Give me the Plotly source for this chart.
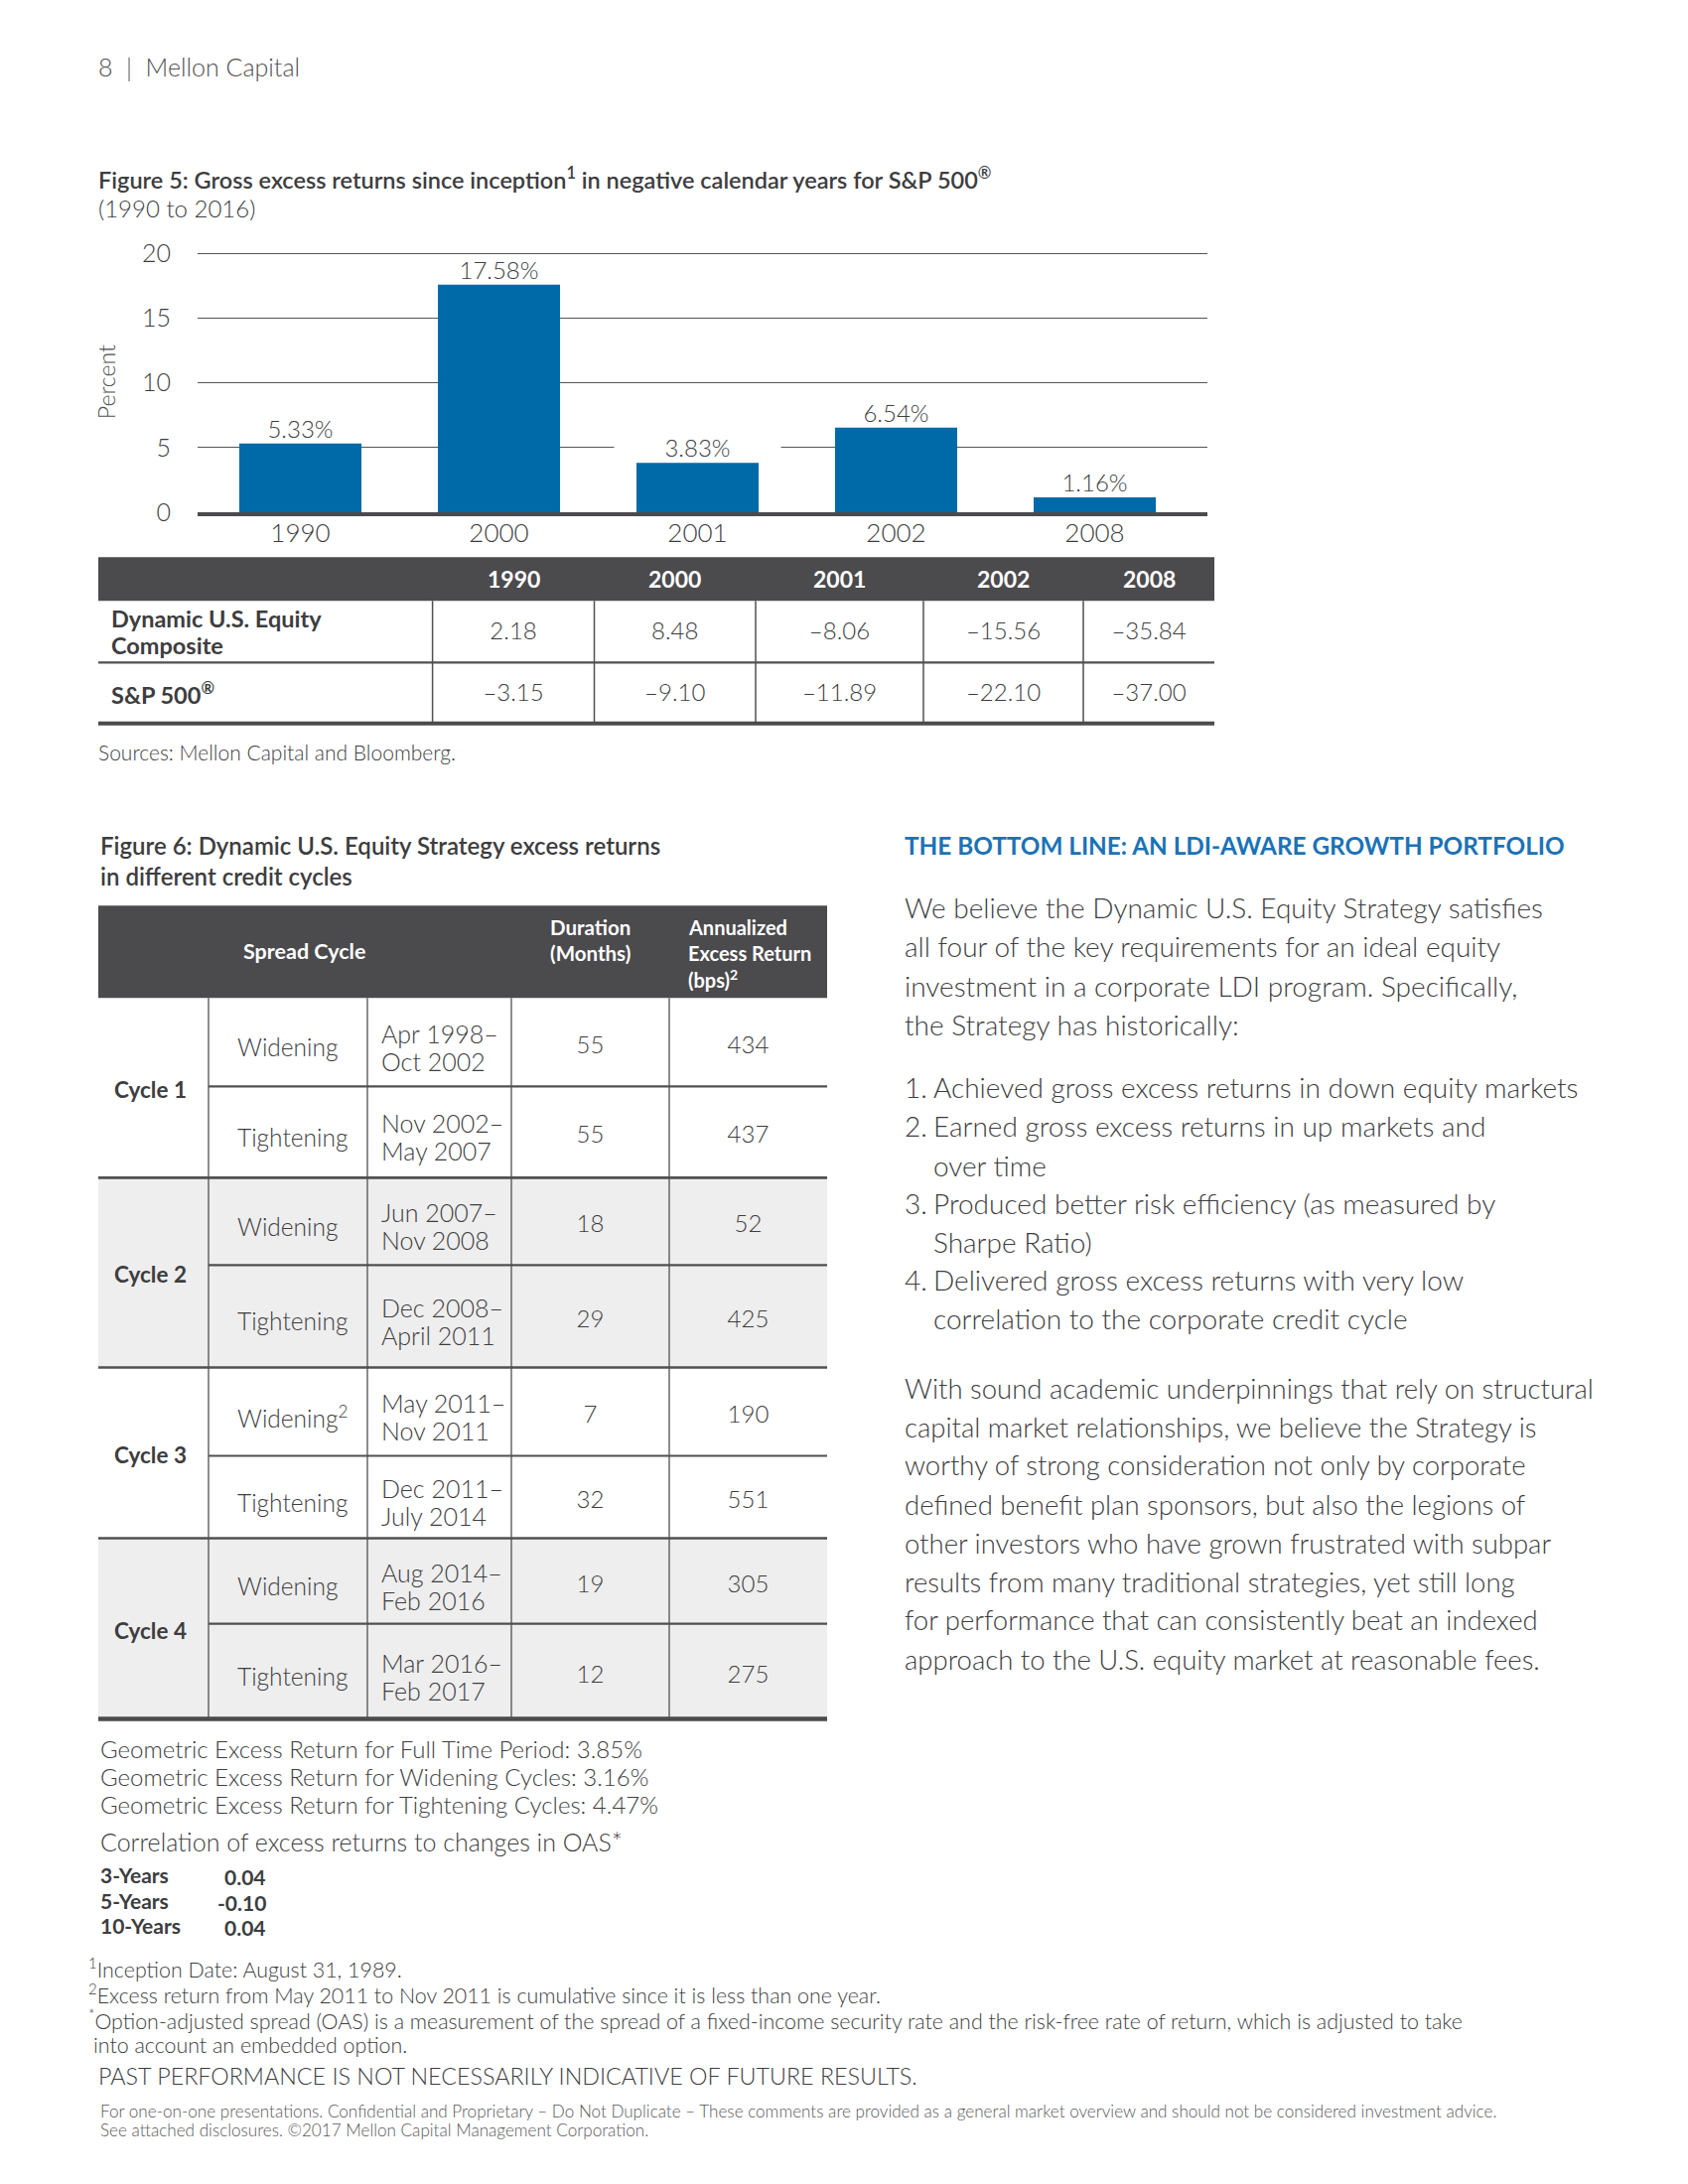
import plotly.graph_objects as go

# ---------------- data ----------------
years = ["1990", "2000", "2001", "2002", "2008"]
excess_pct = [5.33, 17.58, 3.83, 6.54, 1.16]
composite = ["2.18", "8.48", "–8.06", "–15.56", "–35.84"]
sp500 = ["–3.15", "–9.10", "–11.89", "–22.10", "–37.00"]
row_labels_t1 = [["Dynamic U.S. Equity", "Composite"], ["S&amp;P 500<sup>®</sup>"]]

cycles = ["Cycle 1", "Cycle 2", "Cycle 3", "Cycle 4"]
spread = ["Widening", "Tightening", "Widening", "Tightening",
          "Widening<sup>2</sup>", "Tightening", "Widening", "Tightening"]
period_start = ["Apr 1998–", "Nov 2002–", "Jun 2007–", "Dec 2008–",
                "May 2011–", "Dec 2011–", "Aug 2014–", "Mar 2016–"]
period_end = ["Oct 2002", "May 2007", "Nov 2008", "April 2011",
              "Nov 2011", "July 2014", "Feb 2016", "Feb 2017"]
duration = [55, 55, 18, 29, 7, 32, 19, 12]
excess_bps = [434, 437, 52, 425, 190, 551, 305, 275]

geo_lines = ["Geometric Excess Return for Full Time Period: 3.85%",
             "Geometric Excess Return for Widening Cycles: 3.16%",
             "Geometric Excess Return for Tightening Cycles: 4.47%"]
corr_labels = ["3-Years", "5-Years", "10-Years"]
corr_values = ["0.04", "-0.10", "0.04"]

para1 = ["We believe the Dynamic U.S. Equity Strategy satisfies",
         "all four of the key requirements for an ideal equity",
         "investment in a corporate LDI program. Specifically,",
         "the Strategy has historically:"]
list_items = [("1.", "Achieved gross excess returns in down equity markets"),
              ("2.", "Earned gross excess returns in up markets and"),
              ("", "over time"),
              ("3.", "Produced better risk efficiency (as measured by"),
              ("", "Sharpe Ratio)"),
              ("4.", "Delivered gross excess returns with very low"),
              ("", "correlation to the corporate credit cycle")]
para2 = ["With sound academic underpinnings that rely on structural",
         "capital market relationships, we believe the Strategy is",
         "worthy of strong consideration not only by corporate",
         "defined benefit plan sponsors, but also the legions of",
         "other investors who have grown frustrated with subpar",
         "results from many traditional strategies, yet still long",
         "for performance that can consistently beat an indexed",
         "approach to the U.S. equity market at reasonable fees."]

# ---------------- style / page geometry ----------------
W, H = 1700, 2200
XOFF = 9.0              # page offset correction (horizontal)
YA, YB = 0.987, 24.9    # page offset correction (vertical)


def PX(t):
    return (t - XOFF) / W


def PY(t):
    return 1 - ((t - YB) / YA) / H


FONT = "Lato"
TXT = "#3d3d3f"
DARK = "#4b4a4d"
BLUE_BAR = "#0069a7"
BLUE_TXT = "#1b72b6"
LINE = "#505052"
SHADE = "#eeeeee"

ann = []
shapes = []


def T(x, y, s, size=22, w=300, color=TXT, xa="left", ya="middle"):
    ann.append(dict(x=x, y=y, xref="x2", yref="y2", text=s, showarrow=False,
                    xanchor=xa, yanchor=ya,
                    font=dict(family=FONT, size=size, weight=w, color=color)))


def R(x0, y0, x1, y1, fill, layer="below"):
    shapes.append(dict(type="rect", xref="x2", yref="y2", x0=x0, y0=y0, x1=x1, y1=y1,
                       fillcolor=fill, line=dict(width=0), layer=layer))


def L(x0, y0, x1, y1, width=1.2, color=LINE):
    shapes.append(dict(type="line", xref="x2", yref="y2", x0=x0, y0=y0, x1=x1, y1=y1,
                       line=dict(width=width, color=color), layer="above"))


fig = go.Figure()

# ---------------- bar chart ----------------
fig.add_trace(go.Bar(x=years, y=excess_pct, marker=dict(color=BLUE_BAR, line=dict(width=0)),
                     width=0.615, xaxis="x", yaxis="y", hoverinfo="skip"))
for i, v in enumerate(excess_pct):
    ann.append(dict(x=i, y=v, xref="x", yref="y", text=f"{v:.2f}%", showarrow=False,
                    yanchor="bottom", yshift=2, bgcolor="white", width=165, height=24,
                    font=dict(family=FONT, size=24, weight=300, color=TXT)))

# ---------------- page text ----------------
T(98, 70, "8  |  Mellon Capital", size=25, color="#505052")
T(98, 182, "Figure 5: Gross excess returns since inception<sup>1</sup> in negative calendar years for S&amp;P 500<sup>®</sup>",
  size=23.5, w=600)
T(98, 212, "(1990 to 2016)", size=24)
T(108, 388, "Percent", size=23, color="#505052")
ann[-1]["textangle"] = -90
ann[-1]["xanchor"] = "center"

# ---------------- table 1 ----------------
t1_cols = [100, 436.6, 599.5, 762, 931, 1092, 1224]
t1_rows = [564, 608, 670, 731.5]
R(t1_cols[0], t1_rows[0], t1_cols[-1], t1_rows[1], DARK)
for i, yr in enumerate(years):
    cx = (t1_cols[i + 1] + t1_cols[i + 2]) / 2
    T(cx, (t1_rows[0] + t1_rows[1]) / 2, yr, size=23, w=700, color="white", xa="center")
for c in t1_cols[1:-1]:
    L(c, t1_rows[1], c, t1_rows[3], 1.5)
L(t1_cols[0], t1_rows[2], t1_cols[-1], t1_rows[2], 2.2)
L(t1_cols[0], t1_rows[3], t1_cols[-1], t1_rows[3], 4, DARK)
T(111, 626, row_labels_t1[0][0], size=23.5, w=700)
T(111, 653, row_labels_t1[0][1], size=23.5, w=700)
T(111, 701, row_labels_t1[1][0], size=23.5, w=700)

t1x, t1y, t1t = [], [], []
for r, vals in enumerate([composite, sp500]):
    for i, v in enumerate(vals):
        t1x.append((t1_cols[i + 1] + t1_cols[i + 2]) / 2)
        t1y.append((t1_rows[r + 1] + t1_rows[r + 2]) / 2 + 2)
        t1t.append(v)
fig.add_trace(go.Scatter(x=t1x, y=t1y, text=t1t, mode="text", textposition="middle center",
                         textfont=dict(family=FONT, size=24, weight=300, color=TXT),
                         xaxis="x2", yaxis="y2", hoverinfo="skip", showlegend=False))

T(98, 760, "Sources: Mellon Capital and Bloomberg.", size=21)

# ---------------- table 2 ----------------
T(100, 854, "Figure 6: Dynamic U.S. Equity Strategy excess returns", size=24, w=600)
T(100, 885, "in different credit cycles", size=24, w=600)

t2_cols = [100, 211, 371, 516, 675, 834]
t2_top = 915
t2_rows = [1008, 1097, 1189, 1277, 1380, 1469, 1552, 1638, 1734]
R(t2_cols[0], t2_top, t2_cols[-1], t2_rows[0], DARK)
T(307.5, 961, "Spread Cycle", size=21.5, w=700, color="white", xa="center")
T(595, 937, "Duration", size=20.5, w=700, color="white", xa="center")
T(595, 963, "(Months)", size=20.5, w=700, color="white", xa="center")
T(692, 937, "Annualized", size=20, w=700, color="white")
T(692, 963, "Excess Return", size=20, w=700, color="white")
T(692, 989, "(bps)<sup>2</sup>", size=20, w=700, color="white")

for k, cyc in enumerate(cycles):
    y0, y1 = t2_rows[2 * k], t2_rows[2 * k + 2]
    if k % 2 == 1:
        R(t2_cols[0], y0, t2_cols[-1], y1, SHADE)
    T(114, (y0 + y1) / 2 + 2, cyc, size=22.5, w=700)

for c in t2_cols[1:-1]:
    L(c, t2_rows[0], c, t2_rows[-1], 1.3)
for j in range(1, len(t2_rows) - 1):
    if j % 2 == 0:
        L(t2_cols[0], t2_rows[j], t2_cols[-1], t2_rows[j], 2.6)
    else:
        L(t2_cols[1], t2_rows[j], t2_cols[-1], t2_rows[j], 2.2)
L(t2_cols[0], t2_rows[-1], t2_cols[-1], t2_rows[-1], 4.5, DARK)

t2x, t2y, t2t = [], [], []
for j in range(len(spread)):
    cy = (t2_rows[j] + t2_rows[j + 1]) / 2 + 5
    T(238, cy, spread[j], size=24.5)
    T(383, cy - 14, period_start[j], size=25)
    T(383, cy + 14, period_end[j], size=25)
    t2x += [595.5, 754.5]
    t2y += [cy, cy]
    t2t += [str(duration[j]), str(excess_bps[j])]
fig.add_trace(go.Scatter(x=t2x, y=t2y, text=t2t, mode="text", textposition="middle center",
                         textfont=dict(family=FONT, size=24, weight=300, color=TXT),
                         xaxis="x2", yaxis="y2", hoverinfo="skip", showlegend=False))

# ---------------- notes under table 2 ----------------
for i, s in enumerate(geo_lines):
    T(100, [1763.5, 1791.5, 1819.6][i], s, size=24)
T(100, 1857.5, "Correlation of excess returns to changes in OAS*", size=25)
for i, (lab, val) in enumerate(zip(corr_labels, corr_values)):
    yy = [1891, 1916.5, 1941.7][i]
    T(100, yy, lab, size=21, w=700)
    T(271, yy + 2, val, size=21, w=700, xa="right")

# ---------------- right column ----------------
T(910, 854, "THE BOTTOM LINE: AN LDI-AWARE GROWTH PORTFOLIO", size=24.3, w=700, color=BLUE_TXT)
for i, s in enumerate(para1):
    T(910, [917, 956, 995.5, 1035][i], s, size=28)
ly = [1098, 1137, 1176.5, 1214.5, 1254, 1292, 1331]
for i, (num, s) in enumerate(list_items):
    if num:
        T(910, ly[i], num, size=28)
    T(939, ly[i], s, size=28)
py = [1401, 1440.5, 1478, 1518, 1557, 1596, 1634, 1673.5]
for i, s in enumerate(para2):
    T(910, py[i], s, size=27.5)

# ---------------- footnotes ----------------
T(88, 1985, "<sup>1</sup>Inception Date: August 31, 1989.", size=21.4)
T(88, 2010.5, "<sup>2</sup>Excess return from May 2011 to Nov 2011 is cumulative since it is less than one year.", size=21.4)
T(88, 2037, "<sup>*</sup>Option-adjusted spread (OAS) is a measurement of the spread of a fixed-income security rate and the risk-free rate of return, which is adjusted to take", size=21.4)
T(93, 2062.5, "into account an embedded option.", size=21.4)
T(98, 2093, "PAST PERFORMANCE IS NOT NECESSARILY INDICATIVE OF FUTURE RESULTS.", size=23.3)
T(100, 2128.5, "For one-on-one presentations. Confidential and Proprietary – Do Not Duplicate – These comments are provided as a general market overview and should not be considered investment advice.",
  size=17.1, color="#58585a")
T(100, 2148, "See attached disclosures. ©2017 Mellon Capital Management Corporation.", size=17.1, color="#58585a")

# ---------------- layout ----------------
px_per_unit = (519 - 258) / 20.0
fig.update_layout(
    width=W, height=H, margin=dict(l=0, r=0, t=0, b=0),
    paper_bgcolor="white", plot_bgcolor="rgba(0,0,0,0)",
    showlegend=False, bargap=0.385,
    font=dict(family=FONT, color=TXT),
    xaxis=dict(domain=[PX(200), PX(1217)], range=[-0.5175, 4.5675], type="category",
               showgrid=False, showline=True, linewidth=4, linecolor=DARK, ticks="",
               ticklabelstandoff=-5,
               tickfont=dict(family=FONT, size=26, weight=300, color=TXT), fixedrange=True,
               anchor="y"),
    yaxis=dict(domain=[PY(519), PY(258 - 0.15 * px_per_unit)], range=[0, 20.15],
               tickvals=[0, 5, 10, 15, 20],
               showgrid=True, gridcolor="#555557", gridwidth=1, zeroline=False, showline=False,
               ticks="", ticklabelstandoff=26,
               tickfont=dict(family=FONT, size=25, weight=300, color=TXT), fixedrange=True,
               anchor="x"),
    xaxis2=dict(domain=[0, 1], range=[XOFF, W + XOFF], visible=False, anchor="y2", fixedrange=True),
    yaxis2=dict(domain=[0, 1], range=[YA * H + YB, YB], visible=False, anchor="x2", fixedrange=True),
    annotations=ann, shapes=shapes,
)

fig.write_html("out.html")
